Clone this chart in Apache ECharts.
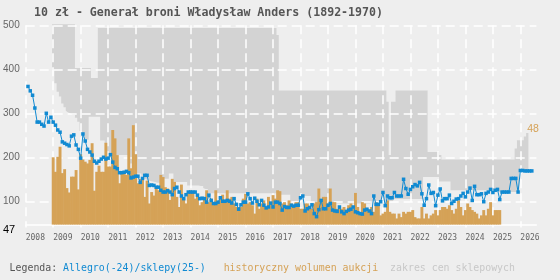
<!DOCTYPE html>
<html>
<head>
<meta charset="utf-8">
<script src="https://cdn.jsdelivr.net/npm/echarts@6/dist/echarts.min.js"></script>
<style>
  html, body { margin: 0; padding: 0; background: #eeeeee; }
  #chart { width: 560px; height: 280px; }
</style>
</head>
<body>
<div id="chart"></div>
<script>
var chartTitle = '10 zł - Generał broni Władysław Anders (1892-1970)'
var yMin = 47
var yMax = 500
var yTicks = [100, 200, 300, 400, 500]
var shopCount = 48
var firstMonth = '2008-01'
var lastMonth = '2026-08'

// Allegro / sklepy - cena (od 2008-02, co miesiac)
var priceStart = '2008-02'
var priceValues = [
  361, 351, 341, 312, 280, 280, 275, 271, 300, 280, 291, 280,
  273, 262, 257, 235, 232, 229, 226, 248, 251, 228, 218, 198,
  253, 237, 218, 212, 205, 191, 187, 191, 196, 200, 196, 198,
  206, 189, 177, 174, 165, 165, 166, 168, 165, 153, 155, 157,
  157, 143, 152, 159, 159, 136, 137, 136, 132, 132, 125, 121,
  121, 124, 121, 115, 129, 132, 121, 112, 106, 115, 121, 121,
  121, 121, 114, 106, 107, 106, 98, 114, 102, 95, 95, 98,
  108, 100, 100, 102, 100, 96, 106, 93, 82, 92, 98, 98,
  117, 106, 96, 107, 100, 92, 102, 91, 85, 87, 96, 87,
  98, 98, 95, 80, 88, 86, 86, 91, 89, 91, 91, 108,
  112, 78, 83, 86, 92, 72, 65, 81, 102, 83, 83, 91,
  95, 80, 78, 77, 87, 76, 72, 77, 80, 82, 87, 76,
  74, 72, 71, 80, 82, 78, 72, 112, 93, 93, 99, 120,
  90, 112, 108, 108, 120, 112, 112, 112, 150, 129, 116, 127,
  133, 138, 135, 143, 117, 91, 106, 137, 118, 120, 90, 114,
  128, 101, 106, 106, 114, 95, 100, 105, 106, 112, 118, 110,
  121, 130, 102, 134, 115, 115, 117, 99, 118, 121, 127, 120,
  125, 127, 104, 121, 121, 121, 121, 152, 152, 152, 121, 170,
  170, 169, 169, 169, 169
]

// historyczny wolumen aukcji (od 2009-01)
var volumeStart = '2009-01'
var volumeValues = [
  200, 167, 201, 224, 164, 173, 130, 120, 156, 156, 171, 127,
  207, 195, 190, 186, 194, 232, 124, 167, 181, 167, 167, 233,
  179, 179, 262, 243, 205, 141, 164, 164, 160, 243, 175, 273,
  207, 141, 151, 155, 110, 147, 95, 121, 113, 132, 125, 160,
  155, 132, 129, 103, 151, 144, 110, 87, 138, 106, 95, 121,
  125, 121, 106, 114, 91, 98, 110, 125, 98, 106, 95, 125,
  98, 106, 115, 98, 125, 106, 110, 95, 87, 87, 87, 106,
  117, 95, 98, 91, 72, 106, 83, 95, 102, 87, 110, 98,
  114, 106, 125, 123, 95, 98, 91, 102, 95, 91, 98, 98,
  83, 83, 95, 95, 87, 83, 95, 98, 129, 98, 110, 110,
  95, 129, 98, 98, 83, 87, 83, 87, 80, 91, 95, 83,
  119, 87, 72, 98, 95, 83, 76, 87, 76, 98, 95, 68,
  72, 76, 102, 76, 72, 72, 61, 72, 64, 76, 72, 76,
  76, 80, 64, 61, 61, 87, 61, 72, 61, 68, 72, 80,
  68, 80, 87, 87, 83, 91, 80, 72, 83, 102, 87, 68,
  80, 95, 87, 80, 76, 72, 61, 68, 80, 68, 83, 98,
  68, 80, 80, 80
]

// zakres cen sklepowych (od 2009-01)
var shopStart = '2009-01'
var shopLow = [
  398, 368, 349, 338, 322, 314, 306, 302, 300, 296, 290, 281,
  260, 250, 243, 240, 292, 292, 292, 292, 292, 238, 238, 230,
  205, 205, 205, 205, 205, 205, 205, 205, 205, 205, 186, 186,
  163, 163, 163, 158, 151, 150, 148, 146, 145, 144, 142, 142,
  151, 151, 151, 163, 163, 144, 144, 144, 144, 144, 144, 136,
  136, 136, 136, 136, 136, 135, 130, 128, 118, 118, 118, 118,
  118, 118, 118, 118, 118, 118, 118, 118, 118, 118, 118, 118,
  118, 118, 118, 118, 118, 118, 118, 118, 118, 118, 118, 118,
  118, 118, 118, 115, 115, 115, 115, 115, 100, 100, 100, 100,
  100, 112, 112, 112, 112, 95, 95, 95, 95, 95, 95, 95,
  95, 95, 95, 95, 95, 95, 95, 95, 95, 95, 95, 95,
  95, 95, 95, 95, 95, 95, 95, 100, 100, 100, 100, 100,
  100, 100, 100, 100, 100, 105, 105, 105, 105, 105, 105, 105,
  105, 105, 105, 105, 105, 105, 155, 155, 155, 155, 155, 155,
  155, 145, 145, 145, 145, 145, 125, 125, 125, 125, 125, 125,
  125, 125, 125, 125, 125, 125, 125, 125, 125, 125, 125, 125,
  125, 125, 125, 121, 121, 121, 121, 121, 121, 121, 121, 121,
  170, 170, 170, 170, 170, 170
]
var shopHigh = [
  520, 520, 520, 520, 520, 520, 520, 520, 520, 520, 403, 403,
  403, 403, 403, 403, 403, 380, 380, 380, 494, 494, 494, 494,
  494, 494, 494, 494, 494, 494, 494, 494, 494, 494, 494, 494,
  494, 494, 494, 494, 494, 494, 494, 494, 494, 494, 494, 494,
  494, 494, 494, 494, 494, 494, 494, 494, 494, 494, 494, 494,
  494, 494, 494, 494, 494, 494, 494, 494, 494, 494, 494, 494,
  494, 494, 494, 494, 494, 494, 494, 494, 494, 494, 494, 494,
  494, 494, 494, 494, 494, 494, 494, 494, 494, 494, 494, 494,
  494, 494, 478, 352, 352, 352, 352, 352, 352, 352, 352, 352,
  352, 352, 352, 352, 352, 352, 352, 352, 352, 352, 352, 352,
  352, 352, 352, 352, 352, 352, 352, 352, 352, 352, 352, 352,
  352, 352, 352, 352, 352, 352, 352, 352, 352, 352, 352, 352,
  352, 352, 326, 205, 326, 326, 352, 352, 352, 352, 352, 352,
  352, 352, 352, 352, 352, 352, 352, 352, 212, 212, 212, 212,
  212, 205, 195, 195, 195, 195, 195, 195, 195, 195, 195, 195,
  195, 195, 195, 195, 195, 195, 195, 195, 195, 195, 195, 195,
  195, 195, 195, 195, 195, 195, 195, 195, 195, 195, 220, 239,
  239, 239, 247, 255
]

var colorPrice = '#118ad2'
var colorVolume = '#d5a257'
var colorShop = '#d3d3d3'

// miesiace na osi X
var months = []
for (var y = 2008; y <= 2026; y++) {
  for (var m = 1; m <= 12; m++) {
    var key = y + '-' + (m < 10 ? '0' + m : m)
    if (key >= firstMonth && key <= lastMonth) months.push(key)
  }
}
function onMonths(start, values) {
  var out = months.map(function() { return null })
  var i0 = months.indexOf(start)
  values.forEach(function(v, i) { out[i0 + i] = v })
  return out
}
function isJanuary(i, v) {
  return months[i].slice(5) === '01'
}

var chart = echarts.init(document.getElementById('chart'), null, { renderer: 'canvas' })
chart.setOption({
  animation: false,
  backgroundColor: '#eeeeee',
  title: {
    text: chartTitle,
    left: 34,
    top: 7,
    padding: 0,
    textStyle: {
      fontFamily: 'DejaVu Sans Mono',
      fontSize: 11.6,
      fontWeight: 'bold',
      color: '#555'
    }
  },
  grid: { left: 25.7, right: 23.6, top: 25.3, bottom: 55.4 },
  xAxis: {
    type: 'category',
    data: months,
    boundaryGap: false,
    z: 1,
    axisLine: { lineStyle: { color: '#fff', width: 1.5 } },
    axisTick: { interval: isJanuary, length: 3, lineStyle: { color: '#fff', width: 1.5 } },
    axisLabel: {
      interval: isJanuary,
      formatter: function(v) { return v.slice(0, 4) },
      align: 'left',
      margin: 9,
      color: '#666',
      fontFamily: 'DejaVu Sans Mono',
      fontSize: 8
    },
    splitLine: {
      show: true,
      interval: isJanuary,
      lineStyle: { color: '#fff', width: 1.5, type: [9, 5] }
    }
  },
  yAxis: {
    type: 'value',
    min: yMin,
    max: yMax,
    z: 1,
    axisLine: { show: false },
    axisTick: { show: false, customValues: yTicks },
    axisLabel: {
      customValues: yTicks,
      margin: 6,
      color: '#666',
      fontFamily: 'Liberation Sans',
      fontSize: 10
    },
    splitLine: { lineStyle: { color: '#fff', width: 1.5, type: [9, 5] } }
  },
  graphic: [
    {
      type: 'text',
      left: 3,
      top: 224,
      style: { text: String(yMin), font: '11px "Liberation Sans"', fill: '#000' }
    },
    {
      type: 'text',
      x: 9.6,
      y: 268,
      style: {
        text: '{l|Legenda: }{a|Allegro(-24)/sklepy(25-)}{l|   }{h|historyczny wolumen aukcji}{l|  }{z|zakres cen sklepowych}',
        verticalAlign: 'middle',
        font: '9.9px "DejaVu Sans Mono"',
        rich: {
          l: { fill: '#555', font: '9.9px "DejaVu Sans Mono"' },
          a: { fill: colorPrice, font: '9.9px "DejaVu Sans Mono"' },
          h: { fill: colorVolume, font: '9.9px "DejaVu Sans Mono"' },
          z: { fill: '#c8c8c8', font: '9.9px "DejaVu Sans Mono"' }
        }
      }
    }
  ],
  series: [
    {
      name: 'shopLow',
      type: 'line',
      stack: 'shop',
      step: 'middle',
      data: onMonths(shopStart, shopLow),
      symbol: 'none',
      lineStyle: { opacity: 0 },
      silent: true,
      z: 0.5
    },
    {
      name: 'zakres cen sklepowych',
      type: 'line',
      stack: 'shop',
      step: 'middle',
      data: onMonths(shopStart, shopHigh.map(function(h, i) { return h - shopLow[i] })),
      symbol: 'none',
      lineStyle: { opacity: 0 },
      areaStyle: { color: colorShop, opacity: 1 },
      endLabel: {
        show: true,
        formatter: String(shopCount),
        color: colorVolume,
        fontFamily: 'Liberation Sans',
        fontSize: 10.5,
        offset: [-8, -4]
      },
      silent: true,
      z: 0.5
    },
    {
      name: 'historyczny wolumen aukcji',
      type: 'bar',
      data: onMonths(volumeStart, volumeValues),
      barWidth: 2.9,
      itemStyle: { color: colorVolume },
      z: 2
    },
    {
      name: 'Allegro(-24)/sklepy(25-)',
      type: 'line',
      data: onMonths(priceStart, priceValues),
      symbol: 'rect',
      symbolSize: 3.5,
      showAllSymbol: true,
      lineStyle: { color: colorPrice, width: 1 },
      itemStyle: { color: colorPrice },
      z: 3
    }
  ]
})
</script>
</body>
</html>
